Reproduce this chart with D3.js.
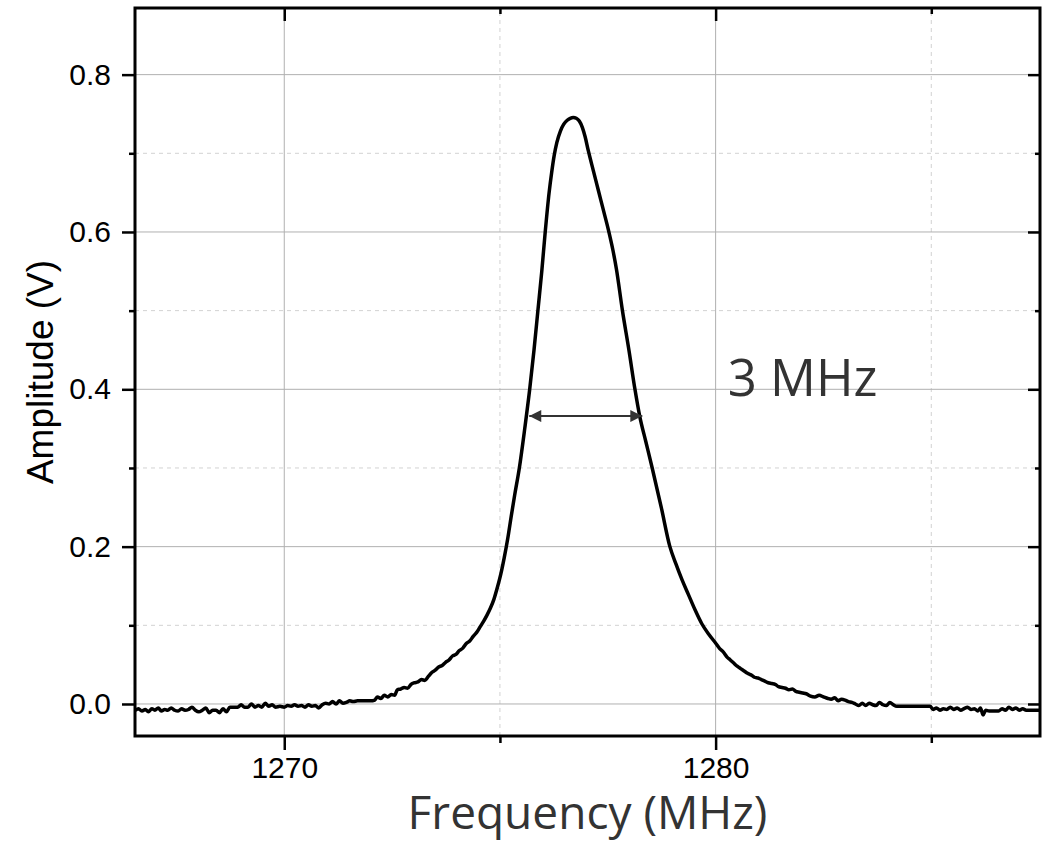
<!DOCTYPE html>
<html>
<head>
<meta charset="utf-8">
<script src="https://cdn.jsdelivr.net/npm/d3@7"></script>
<style>
  body { margin: 0; background: #fff; }
  svg { display: block; }
  .tick text { font-family: "Liberation Sans", Arial, sans-serif; font-size: 30px; fill: #000; }
</style>
</head>
<body>
<svg id="chart" width="1051" height="852"></svg>
<script>
const freqMHz = [
  1266.55,1266.62,1266.70,1266.78,1266.85,1266.93,1267.00,1267.08,1267.15,1267.23,
  1267.30,1267.38,1267.46,1267.54,1267.62,1267.70,1267.78,1267.86,1267.94,1268.02,
  1268.10,1268.18,1268.26,1268.34,1268.42,1268.50,1268.58,1268.66,1268.74,1268.82,
  1268.92,1269.00,1269.08,1269.16,1269.24,1269.32,1269.40,1269.48,1269.56,1269.64,
  1269.72,1269.80,1269.90,1270.00,1270.08,1270.16,1270.24,1270.32,1270.40,1270.48,
  1270.56,1270.64,1270.72,1270.80,1270.88,1270.96,1271.04,1271.12,1271.20,1271.28,
  1271.36,1271.44,1271.52,1271.60,1271.70,1271.80,1271.90,1272.00,1272.10,1272.16,
  1272.24,1272.32,1272.40,1272.48,1272.56,1272.62,1272.70,1272.78,1272.86,1272.94,
  1273.02,1273.10,1273.18,1273.26,1273.34,1273.42,1273.50,1273.58,1273.66,1273.74,
  1273.82,1273.90,1273.98,1274.06,1274.14,1274.22,1274.30,1274.38,1274.46,1274.54,
  1274.62,1274.70,1274.78,1274.86,1274.94,1275.02,1275.10,1275.18,1275.26,1275.34,
  1275.45,1275.575,1275.69,1275.79,1275.88,1275.97,1276.05,1276.14,1276.20,1276.26,
  1276.32,1276.40,1276.48,1276.56,1276.63,1276.70,1276.77,1276.84,1276.91,1276.975,
  1277.05,1277.165,1277.281,1277.397,1277.513,1277.615,1277.70,1277.84,1277.99,1278.13,
  1278.24,1278.38,1278.53,1278.74,1278.94,1279.08,1279.22,1279.37,1279.52,1279.68,1279.85,
  1280.02,1280.10,1280.18,1280.26,1280.34,1280.42,1280.50,1280.58,1280.66,1280.74,
  1280.82,1280.90,1280.98,1281.06,1281.14,1281.22,1281.30,1281.38,1281.46,1281.54,
  1281.62,1281.70,1281.78,1281.86,1281.94,1282.02,1282.10,1282.20,1282.30,1282.40,
  1282.50,1282.60,1282.68,1282.76,1282.84,1282.92,1283.00,1283.08,1283.16,1283.24,
  1283.32,1283.40,1283.48,1283.56,1283.64,1283.72,1283.80,1283.88,1283.96,1284.04,
  1284.12,1284.20,1284.40,1284.60,1284.80,1284.97,1285.05,1285.12,1285.20,1285.28,
  1285.36,1285.44,1285.52,1285.60,1285.68,1285.76,1285.84,1285.92,1286.00,1286.08,
  1286.14,1286.20,1286.26,1286.34,1286.44,1286.56,1286.64,1286.72,1286.80,1286.88,
  1286.96,1287.04,1287.12,1287.20,1287.30,1287.40,1287.52
];
const ampV = [
  -0.008,-0.006,-0.009,-0.007,-0.010,-0.006,-0.008,-0.005,-0.009,-0.007,
  -0.008,-0.005,-0.008,-0.009,-0.006,-0.008,-0.007,-0.004,-0.008,-0.010,
  -0.008,-0.005,-0.011,-0.008,-0.008,-0.011,-0.006,-0.010,-0.004,-0.004,
  -0.004,-0.001,-0.004,-0.004,0.000,-0.004,-0.002,-0.004,0.001,-0.003,
  -0.001,-0.004,-0.003,-0.004,-0.002,-0.003,-0.001,-0.003,-0.002,-0.004,
  -0.001,-0.003,-0.002,-0.005,-0.001,0.001,0.000,0.003,0.000,0.004,
  0.001,0.002,0.004,0.003,0.004,0.004,0.004,0.004,0.005,0.009,
  0.007,0.011,0.009,0.012,0.011,0.018,0.019,0.021,0.020,0.025,
  0.027,0.028,0.031,0.030,0.035,0.040,0.043,0.047,0.049,0.053,
  0.056,0.061,0.063,0.068,0.071,0.077,0.080,0.086,0.091,0.098,
  0.105,0.113,0.122,0.133,0.148,0.165,0.186,0.210,0.238,0.265,
  0.300,0.350,0.400,0.450,0.500,0.550,0.600,0.650,0.676,0.698,
  0.714,0.728,0.737,0.742,0.7445,0.7455,0.7445,0.741,0.733,0.721,
  0.703,0.678,0.653,0.628,0.603,0.578,0.553,0.500,0.450,0.400,
  0.366,0.334,0.300,0.250,0.200,0.178,0.158,0.139,0.120,0.102,0.088,
  0.076,0.070,0.066,0.060,0.056,0.052,0.048,0.045,0.042,0.039,
  0.037,0.034,0.033,0.031,0.029,0.027,0.026,0.025,0.022,0.021,
  0.020,0.018,0.019,0.016,0.015,0.014,0.013,0.010,0.009,0.011,
  0.009,0.007,0.006,0.008,0.004,0.006,0.005,0.003,0.002,0.000,
  -0.002,0.001,-0.002,0.001,-0.001,-0.002,0.002,-0.001,-0.002,0.002,
  -0.001,-0.003,-0.003,-0.003,-0.003,-0.003,-0.007,-0.005,-0.008,-0.006,
  -0.007,-0.004,-0.007,-0.005,-0.008,-0.006,-0.004,-0.007,-0.006,-0.009,
  -0.005,-0.014,-0.008,-0.009,-0.009,-0.009,-0.006,-0.008,-0.004,-0.007,
  -0.005,-0.008,-0.006,-0.008,-0.008,-0.008,-0.008
];

const xMajor = [1270, 1280];
const xMinor = [1275, 1285];
const yMajor = [0.0, 0.2, 0.4, 0.6, 0.8];
const yMinor = [0.1, 0.3, 0.5, 0.7];

// FWHM marker and its label
const fwhmFreq = [1275.68, 1278.30];
const fwhmAmp = 0.366;
const fwhmLabel = "3 MHz";
const labelPos = [1280.28, 0.391];

const margin = { top: 8, left: 135, right: 11, bottom: 116 };
const width = 1051, height = 852;

const svg = d3.select("#chart");

const x = d3.scaleLinear()
    .domain([1266.54, 1287.52])
    .range([margin.left, width - margin.right]);
const y = d3.scaleLinear()
    .domain([-0.0407, 0.8847])
    .range([height - margin.bottom, margin.top]);

const x0 = x.range()[0], x1 = x.range()[1];
const y0 = y.range()[0], y1 = y.range()[1];

// grid
const grid = svg.append("g");
grid.selectAll(".gx-minor").data(xMinor).enter().append("line")
    .attr("x1", d => x(d)).attr("x2", d => x(d))
    .attr("y1", y0).attr("y2", y1)
    .attr("stroke", "#d2d2d2").attr("stroke-dasharray", "4,4");
grid.selectAll(".gy-minor").data(yMinor).enter().append("line")
    .attr("y1", d => y(d)).attr("y2", d => y(d))
    .attr("x1", x0).attr("x2", x1)
    .attr("stroke", "#d2d2d2").attr("stroke-dasharray", "4,4");
grid.selectAll(".gx-major").data(xMajor).enter().append("line")
    .attr("x1", d => x(d)).attr("x2", d => x(d))
    .attr("y1", y0).attr("y2", y1)
    .attr("stroke", "#b0b0b0");
grid.selectAll(".gy-major").data(yMajor).enter().append("line")
    .attr("y1", d => y(d)).attr("y2", d => y(d))
    .attr("x1", x0).attr("x2", x1)
    .attr("stroke", "#b0b0b0");

// trace
const pts = freqMHz.map((f, i) => [f, ampV[i]]);
const line = d3.line()
    .x(d => x(d[0])).y(d => y(d[1]))
    .curve(d3.curveMonotoneX);
svg.append("path")
    .datum(pts)
    .attr("d", line)
    .attr("fill", "none")
    .attr("stroke", "#000")
    .attr("stroke-width", 3.5)
    .attr("stroke-linejoin", "round");

// double arrow
const defs = svg.append("defs");
defs.append("marker")
    .attr("id", "head")
    .attr("viewBox", "0 0 10 10")
    .attr("refX", 10).attr("refY", 5)
    .attr("markerWidth", 14).attr("markerHeight", 12)
    .attr("markerUnits", "userSpaceOnUse")
    .attr("orient", "auto-start-reverse")
    .append("path").attr("d", "M0,0 L10,5 L0,10 z").attr("fill", "#333");

svg.append("line")
    .attr("x1", x(fwhmFreq[0])).attr("x2", x(fwhmFreq[1]))
    .attr("y1", y(fwhmAmp)).attr("y2", y(fwhmAmp))
    .attr("stroke", "#333").attr("stroke-width", 2)
    .attr("marker-start", "url(#head)")
    .attr("marker-end", "url(#head)");

svg.append("text")
    .attr("x", x(labelPos[0])).attr("y", y(labelPos[1]))
    .style("font-family", "'Open Sans', sans-serif")
    .style("font-size", "51px")
    .style("fill", "#333")
    .text(fwhmLabel);

// axes
function styleAxis(g) {
    g.select(".domain").remove();
    g.selectAll(".tick line").attr("stroke", "#000").attr("stroke-width", 2.5);
}

svg.append("g").attr("transform", `translate(0,${y0})`)
    .call(d3.axisBottom(x).tickValues(xMajor).tickSize(14).tickPadding(7).tickFormat(d3.format("d")))
    .call(styleAxis);
svg.append("g").attr("transform", `translate(0,${y0})`)
    .call(d3.axisBottom(x).tickValues(xMinor).tickSize(7).tickFormat(""))
    .call(styleAxis);
svg.append("g").attr("transform", `translate(0,${y1})`)
    .call(d3.axisTop(x).tickValues(xMajor).tickSize(-13).tickFormat(""))
    .call(styleAxis);
svg.append("g").attr("transform", `translate(0,${y1})`)
    .call(d3.axisTop(x).tickValues(xMinor).tickSize(-6).tickFormat(""))
    .call(styleAxis);

svg.append("g").attr("transform", `translate(${x0},0)`)
    .call(d3.axisLeft(y).tickValues(yMajor).tickSize(13).tickPadding(11).tickFormat(d3.format(".1f")))
    .call(styleAxis);
svg.append("g").attr("transform", `translate(${x0},0)`)
    .call(d3.axisLeft(y).tickValues(yMinor).tickSize(6).tickFormat(""))
    .call(styleAxis);
svg.append("g").attr("transform", `translate(${x1},0)`)
    .call(d3.axisRight(y).tickValues(yMajor).tickSize(-12).tickFormat(""))
    .call(styleAxis);
svg.append("g").attr("transform", `translate(${x1},0)`)
    .call(d3.axisRight(y).tickValues(yMinor).tickSize(-5).tickFormat(""))
    .call(styleAxis);

// frame
svg.append("rect")
    .attr("x", x0).attr("y", y1)
    .attr("width", x1 - x0).attr("height", y0 - y1)
    .attr("fill", "none").attr("stroke", "#000").attr("stroke-width", 3);

// titles
svg.append("text")
    .attr("x", (x0 + x1) / 2).attr("y", 829)
    .attr("text-anchor", "middle")
    .style("font-family", "'Open Sans', sans-serif")
    .style("font-size", "46px")
    .style("fill", "#333")
    .text("Frequency (MHz)");

svg.append("text")
    .attr("transform", `translate(53,${(y0 + y1) / 2}) rotate(-90)`)
    .attr("text-anchor", "middle")
    .style("font-family", "'Liberation Sans', Arial, sans-serif")
    .style("font-size", "37px")
    .style("fill", "#000")
    .text("Amplitude (V)");
</script>
</body>
</html>
